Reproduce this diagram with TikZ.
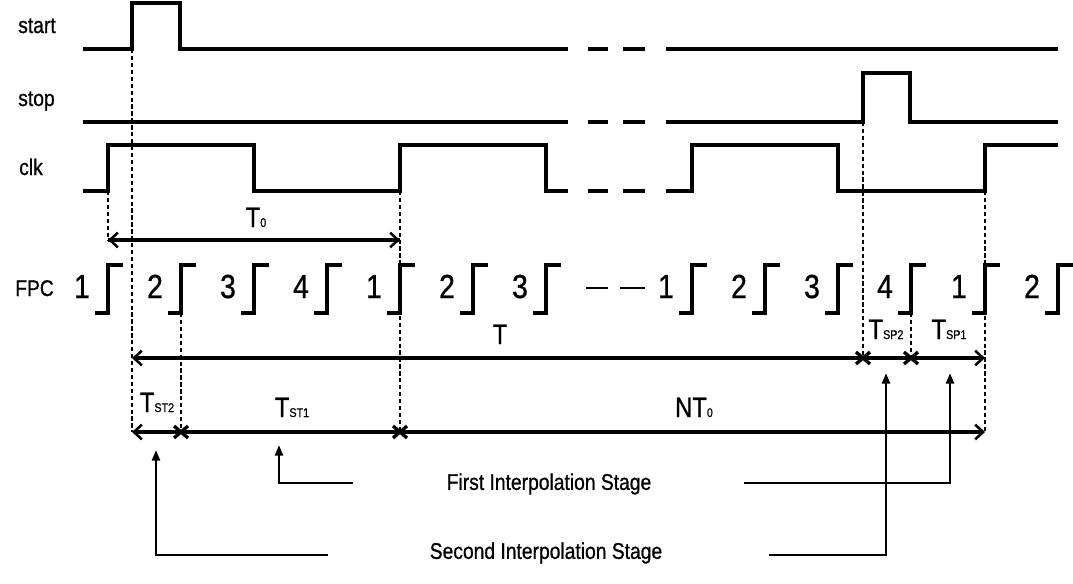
\documentclass[tikz,border=0pt]{standalone}
\usepackage{fontspec}
\setmainfont{Liberation Sans}
\newfontfamily\cond[FakeStretch=0.85,FakeBold=0.8]{Liberation Sans}
\usetikzlibrary{arrows.meta,calc}
\newcommand{\tsub}[1]{{\fontsize{9.5}{10}\selectfont #1}}
\newcommand{\xcross}[1]{\draw[xmark] ($(#1)+(-7,-6)$) -- ($(#1)+(7,6)$) ($(#1)+(-7,6)$) -- ($(#1)+(7,-6)$);}
\begin{document}
\begin{tikzpicture}[x=0.75pt,y=-0.75pt,
  sig/.style={line width=2.5pt,line join=miter},
  dsh/.style={line width=2.5pt},
  vdot/.style={line width=2.1pt,dash pattern=on 3.2pt off 2pt},
  meas/.style={line width=2.3pt},
  barb/.style={-{Straight Barb[length=6pt,width=11pt,line width=1.9pt]}},
  stagearr/.style={line width=1.9pt,-{Triangle[length=8pt,width=6pt]}},
  sname/.style={font=\cond\fontsize{17}{18}\selectfont,anchor=base west,inner sep=0pt},
  digit/.style={font=\cond\fontsize{25}{26}\selectfont,anchor=base,inner sep=0pt},
  tlab/.style={font=\cond\fontsize{21}{22}\selectfont,anchor=base,inner sep=0pt},
  stage/.style={font=\cond\fontsize{17}{18}\selectfont,inner sep=0pt},
  xmark/.style={line width=2.5pt}
]
\useasboundingbox (0,0) rectangle (1073,583);

% signal names
\node[sname] (lstart) at (18,33) {start};
\node[sname] (lstop) at (18,106) {stop};
\node[sname] (lclk) at (19,175) {clk};
\node[sname] (lfpc) at (15,296) {FPC};

% start
\draw[sig] (83,49) -- (132,49) -- (132,3) -- (180,3) -- (180,49) -- (568,49);
\draw[dsh] (588,49) -- (608,49) (623,49) -- (645,49);
\draw[sig] (666,49) -- (1058,49);
% stop
\draw[sig] (83,122) -- (568,122);
\draw[dsh] (588,122) -- (608,122) (623,122) -- (645,122);
\draw[sig] (666,122) -- (863,122) -- (863,73) -- (910,73) -- (910,122) -- (1058,122);
% clk
\draw[sig] (83,191) -- (108,191) -- (108,145) -- (254,145) -- (254,191) -- (400,191) -- (400,145) -- (546,145) -- (546,191) -- (568,191);
\draw[dsh] (588,191) -- (608,191) (623,191) -- (645,191);
\draw[sig] (666,191) -- (692,191) -- (692,145) -- (838,145) -- (838,191) -- (985,191) -- (985,145) -- (1058,145);

% FPC steps
\foreach \e in {108,181,254,327,400,473,546,692,765,838,911,985,1058}{
  \draw[sig] (\e-13,313) -- (\e,313) -- (\e,265) -- (\e+15,265);
}
\foreach \e/\d [count=\i] in {108/1,181/2,254/3,327/4,400/1,473/2,546/3,692/1,765/2,838/3,911/4,985/1,1058/2}{
  \node[digit] (d\i) at (\e-26,298) {\d};
}
\draw[line width=2pt] (586,288) -- (608,288) (620,288) -- (645,288);

% key coordinates
\coordinate (a0) at (108,240); \coordinate (a1) at (400,240);
\coordinate (t0) at (132,358); \coordinate (t1) at (863,358); \coordinate (t2) at (911,358); \coordinate (t3) at (985,358);
\coordinate (b0) at (132,432); \coordinate (b1) at (181,432); \coordinate (b2) at (400,432); \coordinate (b3) at (985,432);

% dotted verticals
\draw[vdot] (132,49) -- (b0);
\draw[vdot] (108,191) -- (a0);
\draw[vdot] (400,191) -- (b2);
\draw[vdot] (181,313) -- (b1);
\draw[vdot] (863,122) -- (t1);
\draw[vdot] (911,313) -- (t2);
\draw[vdot] (985,191) -- (b3);

% T0
\draw[meas,barb] (a0) -- (a1);
\draw[meas,barb] (a1) -- (a0);
\node[tlab] (lt0) at (256,227) {T\tsub{0}};

% T row
\draw[meas,barb] (t1) -- (t0);
\draw[meas] (t1) -- (t2);
\draw[meas,barb] (t2) -- (t3);
\xcross{t1} \xcross{t2}
\node[tlab] (lT) at (500,344) {T};
\node[tlab] (ltsp2) at (886,339) {T\tsub{SP2}};
\node[tlab] (ltsp1) at (949,339) {T\tsub{SP1}};

% bottom row
\draw[meas,barb] (b1) -- (b0);
\draw[meas] (b1) -- (b2);
\draw[meas,barb] (b2) -- (b3);
\xcross{b1} \xcross{b2}
\node[tlab] (ltst2) at (157,412) {T\tsub{ST2}};
\node[tlab] (ltst1) at (292,417) {T\tsub{ST1}};
\node[tlab] (lnt0) at (694,417) {NT\tsub{0}};

% stage labels
\node[stage] (first) at (549,484) {First Interpolation Stage};
\node[stage] (second) at (546,553) {Second Interpolation Stage};
\coordinate (f1) at (279,445); \coordinate (f2) at (950,373);
\coordinate (s1) at (156,450); \coordinate (s2) at (886,373);
\draw[stagearr] (353,483) -- (279,483) -- (f1);
\draw[stagearr] (744,483) -- (950,483) -- (f2);
\draw[stagearr] (328,555) -- (156,555) -- (s1);
\draw[stagearr] (769,555) -- (886,555) -- (s2);
\end{tikzpicture}
\end{document}
